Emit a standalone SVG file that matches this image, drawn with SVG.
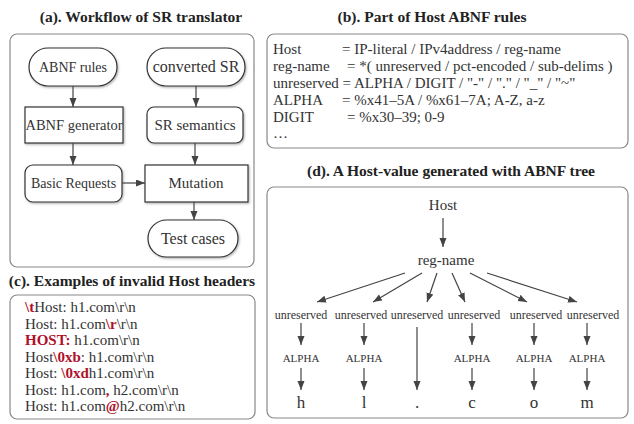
<svg xmlns="http://www.w3.org/2000/svg" width="634" height="424" viewBox="0 0 634 424">
<style>
text{font-family:"Liberation Serif","Times New Roman",serif;fill:#333}
.title{font-size:15.5px;font-weight:bold;text-anchor:middle;fill:#222}
.frame{fill:#fff;stroke:#888;stroke-width:1.2}
.node{fill:#fff;stroke:#333;stroke-width:1.2;filter:url(#sh)}
.lbl{font-size:15px;text-anchor:middle}
.mono{font-size:15px}
.red{fill:#b0102a;font-weight:bold}
.edge{stroke:#444;stroke-width:1.2;fill:none;marker-end:url(#ah)}
.t1{font-size:15px;text-anchor:middle}
.t2{font-size:12px;text-anchor:middle}
.t3{font-size:11px;text-anchor:middle}
.t4{font-size:17px;text-anchor:middle}
</style>
<defs>
<marker id="ah" markerUnits="userSpaceOnUse" markerWidth="10" markerHeight="8" refX="9" refY="3.5" orient="auto">
<path d="M0,0 L9,3.5 L0,7 z" fill="#444"/>
</marker>
<filter id="sh" x="-10%" y="-10%" width="130%" height="140%">
<feDropShadow dx="1" dy="1.2" stdDeviation="0.8" flood-color="#000" flood-opacity="0.3"/>
</filter>
</defs>

<!-- Titles -->
<text class="title" x="141" y="22">(a). Workflow of SR translator</text>
<text class="title" x="432" y="22">(b). Part of Host ABNF rules</text>
<text class="title" x="132" y="286">(c). Examples of invalid Host headers</text>
<text class="title" x="451" y="176">(d). A Host-value generated with ABNF tree</text>

<!-- Frames -->
<rect class="frame" x="10" y="34" width="244" height="233" rx="7"/>
<rect class="frame" x="267" y="34" width="361" height="114" rx="7"/>
<rect class="frame" x="10" y="295" width="245" height="124" rx="7"/>
<rect class="frame" x="267" y="187" width="361" height="231" rx="7"/>

<!-- (a) nodes -->
<g id="abnf-rules"><rect class="node" x="29" y="48" width="88" height="38" rx="19"/><text class="lbl" x="73" y="72" style="font-size:14px">ABNF rules</text></g>
<g id="converted-sr"><rect class="node" x="147" y="48" width="98" height="38" rx="19"/><text class="lbl" x="196" y="72" style="font-size:16px">converted SR</text></g>
<g id="abnf-generator"><rect class="node" x="25" y="107" width="98" height="36" rx="0"/><text class="lbl" x="74" y="130" style="font-size:14.5px">ABNF generator</text></g>
<g id="sr-semantics"><rect class="node" x="147" y="107" width="96" height="36" rx="7"/><text class="lbl" x="195" y="130">SR semantics</text></g>
<g id="basic-requests"><rect class="node" x="25" y="165" width="97" height="37" rx="8"/><text class="lbl" x="73.5" y="188" style="font-size:14px">Basic Requests</text></g>
<g id="mutation"><rect class="node" x="145" y="165" width="103" height="37" rx="0"/><text class="lbl" x="196" y="188">Mutation</text></g>
<g id="test-cases"><rect class="node" x="148" y="220" width="90" height="37" rx="18.5"/><text class="lbl" x="193" y="244" style="font-size:16px">Test cases</text></g>

<!-- (a) connectors -->
<g id="connectors-a">
<line class="edge" x1="73" y1="86" x2="73" y2="107"/>
<line class="edge" x1="196" y1="86" x2="196" y2="107"/>
<line class="edge" x1="73" y1="143" x2="73" y2="165"/>
<line class="edge" x1="195" y1="143" x2="195" y2="165"/>
<line class="edge" x1="122" y1="183" x2="145" y2="183"/>
<line class="edge" x1="194" y1="202" x2="194" y2="220"/>
</g>

<!-- (b) ABNF rules -->
<g id="abnf-text">
<text class="mono" x="273" y="54">Host</text><text class="mono" x="342" y="54">= IP-literal / IPv4address / reg-name</text>
<text class="mono" x="273" y="71">reg-name</text><text class="mono" x="347" y="71">= *( unreserved / pct-encoded / sub-delims )</text>
<text class="mono" x="273" y="88">unreserved = ALPHA / DIGIT / "-" / "." / "_" / "~"</text>
<text class="mono" x="273" y="105">ALPHA</text><text class="mono" x="342" y="105">= %x41–5A / %x61–7A; A-Z, a-z</text>
<text class="mono" x="273" y="122">DIGIT</text><text class="mono" x="347" y="122">= %x30–39; 0-9</text>
<text class="mono" x="273" y="138">…</text>
</g>

<!-- (c) invalid headers -->
<g id="invalid-headers">
<text class="mono" x="25" y="312">  <tspan class="red">\t</tspan>Host: h1.com\r\n</text>
<text class="mono" x="25" y="328.5">Host: h1.com<tspan class="red">\r</tspan>\r\n</text>
<text class="mono" x="25" y="345"><tspan class="red">HOST:</tspan> h1.com\r\n</text>
<text class="mono" x="25" y="361.5">Host<tspan class="red">\0xb</tspan>: h1.com\r\n</text>
<text class="mono" x="25" y="378">Host: <tspan class="red">\0xd</tspan>h1.com\r\n</text>
<text class="mono" x="25" y="394.5">Host: h1.com<tspan class="red">,</tspan> h2.com\r\n</text>
<text class="mono" x="25" y="411">Host: h1.com<tspan class="red">@</tspan>h2.com\r\n</text>
</g>

<!-- (d) tree nodes -->
<g id="t-host"><text class="t1" x="443" y="210">Host</text></g>
<g id="t-regname"><text class="t1" x="446" y="265">reg-name</text></g>
<g id="t-u1"><text class="t2" x="301" y="319">unreserved</text></g>
<g id="t-u2"><text class="t2" x="361" y="319">unreserved</text></g>
<g id="t-u3"><text class="t2" x="417" y="319">unreserved</text></g>
<g id="t-u4"><text class="t2" x="474" y="319">unreserved</text></g>
<g id="t-u5"><text class="t2" x="536" y="319">unreserved</text></g>
<g id="t-u6"><text class="t2" x="593" y="319">unreserved</text></g>
<g id="t-a1"><text class="t3" x="301" y="362">ALPHA</text></g>
<g id="t-a2"><text class="t3" x="364" y="362">ALPHA</text></g>
<g id="t-a4"><text class="t3" x="472" y="362">ALPHA</text></g>
<g id="t-a5"><text class="t3" x="534" y="362">ALPHA</text></g>
<g id="t-a6"><text class="t3" x="587" y="362">ALPHA</text></g>
<g id="t-h"><text class="t4" x="301" y="408">h</text></g>
<g id="t-l"><text class="t4" x="364" y="408">l</text></g>
<g id="t-dot"><text class="t4" x="417" y="408">.</text></g>
<g id="t-c"><text class="t4" x="472" y="408">c</text></g>
<g id="t-o"><text class="t4" x="534" y="408">o</text></g>
<g id="t-m"><text class="t4" x="587" y="408">m</text></g>

<!-- (d) connectors -->
<g id="connectors-d">
<line class="edge" x1="443" y1="218" x2="443" y2="247"/>
<line class="edge" x1="405" y1="273" x2="317" y2="302"/>
<line class="edge" x1="422" y1="273" x2="373" y2="302"/>
<line class="edge" x1="437" y1="273" x2="427" y2="302"/>
<line class="edge" x1="452" y1="273" x2="465" y2="302"/>
<line class="edge" x1="470" y1="273" x2="527" y2="302"/>
<line class="edge" x1="487" y1="273" x2="577" y2="302"/>
<line class="edge" x1="301" y1="323" x2="301" y2="345"/>
<line class="edge" x1="364" y1="323" x2="364" y2="345"/>
<line class="edge" x1="472" y1="323" x2="472" y2="345"/>
<line class="edge" x1="534" y1="323" x2="534" y2="345"/>
<line class="edge" x1="587" y1="323" x2="587" y2="345"/>
<line class="edge" x1="301" y1="368" x2="301" y2="390"/>
<line class="edge" x1="364" y1="368" x2="364" y2="390"/>
<line class="edge" x1="417" y1="327" x2="417" y2="390"/>
<line class="edge" x1="472" y1="368" x2="472" y2="390"/>
<line class="edge" x1="534" y1="368" x2="534" y2="390"/>
<line class="edge" x1="587" y1="368" x2="587" y2="390"/>
</g>
</svg>
